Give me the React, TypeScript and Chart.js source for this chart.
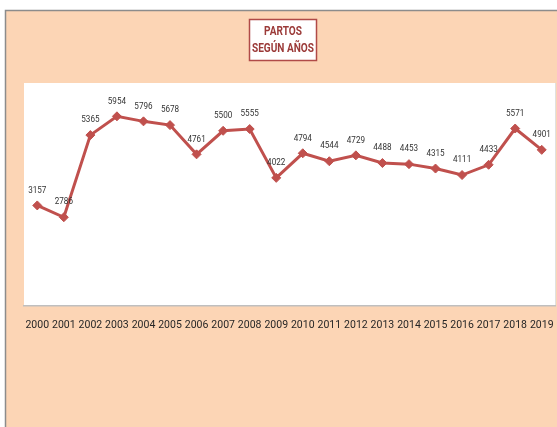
import React, { useEffect, useRef } from "react";
import { Chart, registerables } from "chart.js";

Chart.register(...registerables);

const years: string[] = [
  "2000", "2001", "2002", "2003", "2004", "2005", "2006", "2007", "2008", "2009",
  "2010", "2011", "2012", "2013", "2014", "2015", "2016", "2017", "2018", "2019",
];
const partos: number[] = [
  3157, 2786, 5365, 5954, 5796, 5678, 4761, 5500, 5555, 4022,
  4794, 4544, 4729, 4488, 4453, 4315, 4111, 4433, 5571, 4901,
];
const titleLines: string[] = ["PARTOS", "SEGÚN AÑOS"];

const PEACH = "#FCD5B5";
const RED = "#C0504D";
const TITLE_RED = "#9B3A38";
const FONT = "Roboto, 'Open Sans', sans-serif";

const framePlugin = {
  id: "frame",
  beforeDraw(chart: any) {
    const { ctx, width, height, chartArea } = chart;
    ctx.save();
    ctx.fillStyle = "#ffffff";
    ctx.fillRect(0, 0, width, height);
    ctx.fillStyle = PEACH;
    ctx.fillRect(5, 10, width - 5, height - 10);
    ctx.strokeStyle = "#8C8C8C";
    ctx.lineWidth = 1.5;
    ctx.beginPath();
    ctx.moveTo(5.5, height);
    ctx.lineTo(5.5, 10.5);
    ctx.lineTo(width, 10.5);
    ctx.stroke();
    // plot area
    ctx.fillStyle = "#ffffff";
    ctx.fillRect(chartArea.left, chartArea.top, chartArea.right - chartArea.left, chartArea.bottom - chartArea.top);
    ctx.strokeStyle = "#E0E0E0";
    ctx.lineWidth = 1;
    ctx.beginPath();
    ctx.moveTo(chartArea.right + 0.5, chartArea.top);
    ctx.lineTo(chartArea.right + 0.5, chartArea.bottom);
    ctx.stroke();
    ctx.restore();
  },
};

const titlePlugin = {
  id: "titleBox",
  afterDraw(chart: any) {
    const { ctx } = chart;
    const x0 = 249.5, y0 = 19.5, w = 67, h = 41;
    ctx.save();
    ctx.fillStyle = "#ffffff";
    ctx.fillRect(x0, y0, w, h);
    ctx.strokeStyle = "#B04A47";
    ctx.lineWidth = 1.5;
    ctx.strokeRect(x0, y0, w, h);
    ctx.fillStyle = TITLE_RED;
    ctx.font = `bold 12px ${FONT}`;
    ctx.textAlign = "center";
    ctx.textBaseline = "middle";
    const cx = x0 + w / 2;
    titleLines.forEach((t, i) => {
      ctx.save();
      ctx.translate(cx, 32 + i * 16.5);
      ctx.scale(0.84, 1);
      ctx.fillText(t, 0, 0);
      ctx.restore();
    });
    ctx.restore();
  },
};

const valueLabelPlugin = {
  id: "valueLabels",
  afterDatasetsDraw(chart: any) {
    const { ctx } = chart;
    const meta = chart.getDatasetMeta(0);
    const data = chart.data.datasets[0].data as number[];
    ctx.save();
    ctx.fillStyle = "#333333";
    ctx.font = `9px ${FONT}`;
    ctx.textAlign = "center";
    ctx.textBaseline = "middle";
    meta.data.forEach((pt: any, i: number) => {
      ctx.save();
      ctx.translate(pt.x, pt.y - 15);
      ctx.scale(0.9, 1);
      ctx.fillText(String(data[i]), 0, 0);
      ctx.restore();
    });
    ctx.restore();
  },
};

export default function App() {
  const ref = useRef<HTMLCanvasElement | null>(null);
  useEffect(() => {
    document.body.style.margin = "0";
    if (!ref.current) return;
    const chart = new Chart(ref.current, {
      type: "line",
      data: {
        labels: years,
        datasets: [
          {
            data: partos,
            borderColor: RED,
            backgroundColor: RED,
            borderWidth: 3,
            pointStyle: "rectRot",
            pointRadius: 4.5,
            pointBackgroundColor: RED,
            pointBorderColor: RED,
            pointBorderWidth: 1,
            tension: 0,
            clip: false,
          },
        ],
      },
      options: {
        animation: false,
        responsive: false,
        maintainAspectRatio: false,
        devicePixelRatio: 1,
        layout: { autoPadding: false, padding: { left: 24, right: 2, top: 83, bottom: 0 } },
        plugins: {
          legend: { display: false },
          title: { display: false },
          tooltip: { enabled: false },
        },
        scales: {
          x: {
            type: "category",
            offset: true,
            grid: {
              display: true,
              drawOnChartArea: false,
              drawTicks: true,
              tickLength: 13,
              color: "transparent",
              tickColor: "transparent",
            },
            border: { display: true, color: "#BFBFBF", width: 1.5 },
            ticks: {
              color: "#262626",
              font: { family: FONT, size: 10.5 },
              padding: 0,
              maxRotation: 0,
              minRotation: 0,
              autoSkip: false,
            },
            afterFit: (scale: any) => {
              scale.height = 121;
              scale.paddingLeft = 0;
              scale.paddingRight = 0;
            },
          },
          y: {
            display: false,
            min: 0,
            max: 7000,
          },
        },
      },
      plugins: [framePlugin, titlePlugin, valueLabelPlugin],
    });
    return () => chart.destroy();
  }, []);
  return <canvas ref={ref} width={557} height={427} style={{ display: "block" }} />;
}
